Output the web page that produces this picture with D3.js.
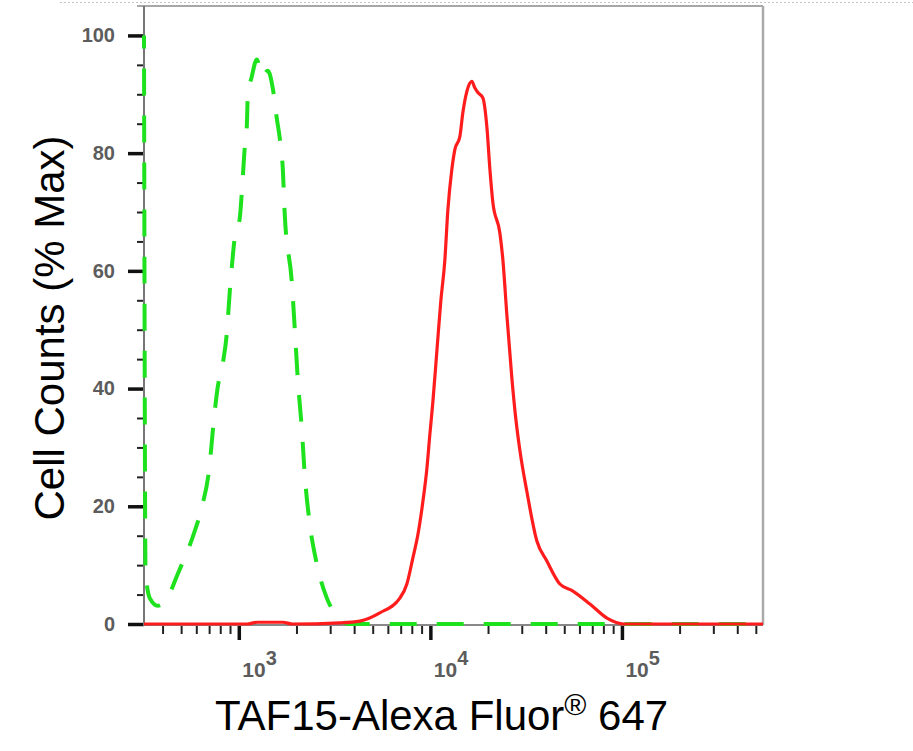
<!DOCTYPE html>
<html lang="en">
<head>
<meta charset="UTF-8" />
<title>TAF15 flow cytometry histogram</title>
<style>
  body { margin: 0; background: #fff; }
  svg { display: block; font-family: "Liberation Sans", Arial, sans-serif; }
</style>
</head>
<body>
<script src="https://d3js.org/d3.v7.min.js"></script>
<script>
const width = 913;
const height = 751;

// [fluorescence, % of max]
const controlCurve = [
  [320, 100], [326, 9], [343, 4.4], [378, 3.1], [421, 4.3], [480, 8.5],
  [589, 15.8], [641, 19.8], [706, 27.3], [732, 32.9], [776, 40.2], [825, 44.3],
  [866, 49.4], [898, 56.7], [919, 60.6], [953, 65.7], [1012, 69.0], [1037, 73.3],
  [1075, 81.1], [1101, 84.5], [1114, 89.6], [1169, 93.0], [1242, 95.9], [1319, 93.0],
  [1417, 94.0], [1505, 91.0], [1579, 85.9], [1637, 82.5], [1697, 77.4], [1738, 69.5],
  [1891, 58.1], [1960, 50.1], [2032, 41.6], [2132, 33.2], [2211, 25.2], [2348, 17.0],
  [2555, 10.2], [2882, 4.4], [3368, 0.9], [3700, 0], [545000, 0]
];

const taf15Curve = [
  [320, 0], [1100, 0], [1250, 0.3], [1700, 0.3], [1900, 0], [3366, 0.2],
  [4285, 0.5], [5447, 1.9], [6930, 4.4], [7540, 6.8], [8100, 11.2], [8610, 15.2],
  [9140, 20.8], [9590, 26.4], [9940, 32.2], [10310, 37.8], [10810, 46.3], [11340, 54.9],
  [11900, 61.8], [12340, 70.3], [12940, 77.2], [13420, 80.6], [14250, 82.8], [14780, 86.9],
  [15510, 90.5], [16470, 92.2], [17060, 91.1], [17700, 90.3], [18790, 89.4], [19720, 84.5],
  [20460, 77.2], [21200, 71.6], [23070, 66.4], [23920, 61.8], [25080, 52.5], [26600, 42],
  [27900, 35], [29330, 29.5], [31900, 22.5], [35970, 14.1], [40560, 10.7], [47430, 6.8],
  [55470, 5.6], [68060, 3.4], [83540, 1.0], [102300, 0], [545000, 0]
];

const xDomain = [320, 545000];
const yDomain = [0, 105];
const yMajorTicks = [0, 20, 40, 60, 80, 100];
const yMinorTicks = d3.range(0, 101, 5);
const xTitle = "TAF15-Alexa Fluor";
const yTitle = "Cell Counts (% Max)";

const plotLeft = 144, plotRight = 763, plotTop = 6, plotBottom = 624;
const labelFont = "Liberation Sans, Arial, sans-serif";

const svg = d3.select("body").append("svg")
  .attr("width", width)
  .attr("height", height);

svg.append("rect").attr("width", width).attr("height", height).attr("fill", "#fff");

const x = d3.scaleLog().domain(xDomain).range([plotLeft, plotRight]);
const y = d3.scaleLinear().domain(yDomain).range([plotBottom, plotTop]);

const isDecade = (v) => Math.abs(Math.log10(v) - Math.round(Math.log10(v))) < 1e-9;
const xMajor = x.ticks().filter(isDecade);
const xMinor = x.ticks().filter((v) => !isDecade(v));

// faint dotted line along the top
svg.append("line")
  .attr("x1", 60).attr("x2", width).attr("y1", 2.5).attr("y2", 2.5)
  .attr("stroke", "#c4c4c4").attr("stroke-dasharray", "2,2");

// frame
svg.append("line")
  .attr("x1", 137).attr("x2", plotRight).attr("y1", plotTop).attr("y2", plotTop)
  .attr("stroke", "#a8a8a8").attr("stroke-width", 2);
svg.append("line")
  .attr("x1", plotRight).attr("x2", plotRight).attr("y1", plotTop).attr("y2", 625)
  .attr("stroke", "#aaa").attr("stroke-width", 2.5);

// x axis
const xMinorG = svg.append("g")
  .attr("transform", "translate(0,625)")
  .call(d3.axisBottom(x).tickValues(xMinor).tickSize(9).tickFormat(""));
xMinorG.select(".domain").remove();
xMinorG.selectAll("line").attr("stroke", "#222").attr("stroke-width", 2);

const xMajorG = svg.append("g")
  .attr("transform", "translate(0,625)")
  .call(d3.axisBottom(x).tickValues(xMajor).tickSize(15).tickFormat(""));
xMajorG.select(".domain").remove();
xMajorG.selectAll("line").attr("stroke", "#111").attr("stroke-width", 3.5);
const xLab = xMajorG.selectAll(".tick").append("text")
  .attr("x", 3).attr("y", 52)
  .attr("text-anchor", "start")
  .attr("fill", "#5c5c5c")
  .attr("font-size", 21)
  .attr("font-weight", "bold")
  .attr("font-family", labelFont);
xLab.append("tspan").text("10");
xLab.append("tspan").attr("dy", -12).attr("font-size", 20)
  .text((d) => Math.round(Math.log10(d)));

svg.append("line")
  .attr("x1", plotLeft).attr("x2", plotRight).attr("y1", 625).attr("y2", 625)
  .attr("stroke", "#888").attr("stroke-width", 2);

// y axis
const yMinorG = svg.append("g")
  .attr("transform", `translate(${plotLeft},0)`)
  .call(d3.axisLeft(y).tickValues(yMinorTicks).tickSize(7).tickFormat(""));
yMinorG.select(".domain").remove();
yMinorG.selectAll("line").attr("stroke", "#222").attr("stroke-width", 2);

const yMajorG = svg.append("g")
  .attr("transform", `translate(${plotLeft},0)`)
  .call(d3.axisLeft(y).tickValues(yMajorTicks).tickSize(16).tickPadding(13));
yMajorG.select(".domain").remove();
yMajorG.selectAll("line").attr("stroke", "#111").attr("stroke-width", 3.5);
yMajorG.selectAll("text")
  .attr("fill", "#5c5c5c")
  .attr("font-size", 20)
  .attr("font-weight", "bold")
  .attr("font-family", labelFont);

svg.append("line")
  .attr("x1", plotLeft).attr("x2", plotLeft).attr("y1", plotTop).attr("y2", 626)
  .attr("stroke", "#777").attr("stroke-width", 2);

// curves
svg.append("clipPath").attr("id", "plot")
  .append("rect").attr("x", plotLeft - 2).attr("y", 0)
  .attr("width", plotRight - plotLeft + 2).attr("height", 628);

const line = d3.line()
  .x((d) => x(d[0]))
  .y((d) => y(d[1]))
  .curve(d3.curveMonotoneX);

svg.append("path")
  .datum(controlCurve)
  .attr("clip-path", "url(#plot)")
  .attr("d", line)
  .attr("fill", "none")
  .attr("stroke", "#1ee21e")
  .attr("stroke-width", 4)
  .attr("stroke-dasharray", "27,20")
  .attr("stroke-dashoffset", 14);

svg.append("path")
  .datum(taf15Curve)
  .attr("clip-path", "url(#plot)")
  .attr("d", line)
  .attr("fill", "none")
  .attr("stroke", "#ff1c1c")
  .attr("stroke-width", 3.2)
  .attr("stroke-linejoin", "round");

// axis titles
const xt = svg.append("text")
  .attr("x", 215).attr("y", 730)
  .attr("font-size", 42)
  .attr("fill", "#000");
xt.append("tspan").text(xTitle);
xt.append("tspan").attr("font-size", 30).attr("dy", -15).text("®");
xt.append("tspan").attr("dy", 15).text(" 647");

svg.append("text")
  .attr("transform", "translate(64,328) rotate(-90)")
  .attr("text-anchor", "middle")
  .attr("font-size", 42)
  .attr("fill", "#000")
  .text(yTitle);
</script>
</body>
</html>
